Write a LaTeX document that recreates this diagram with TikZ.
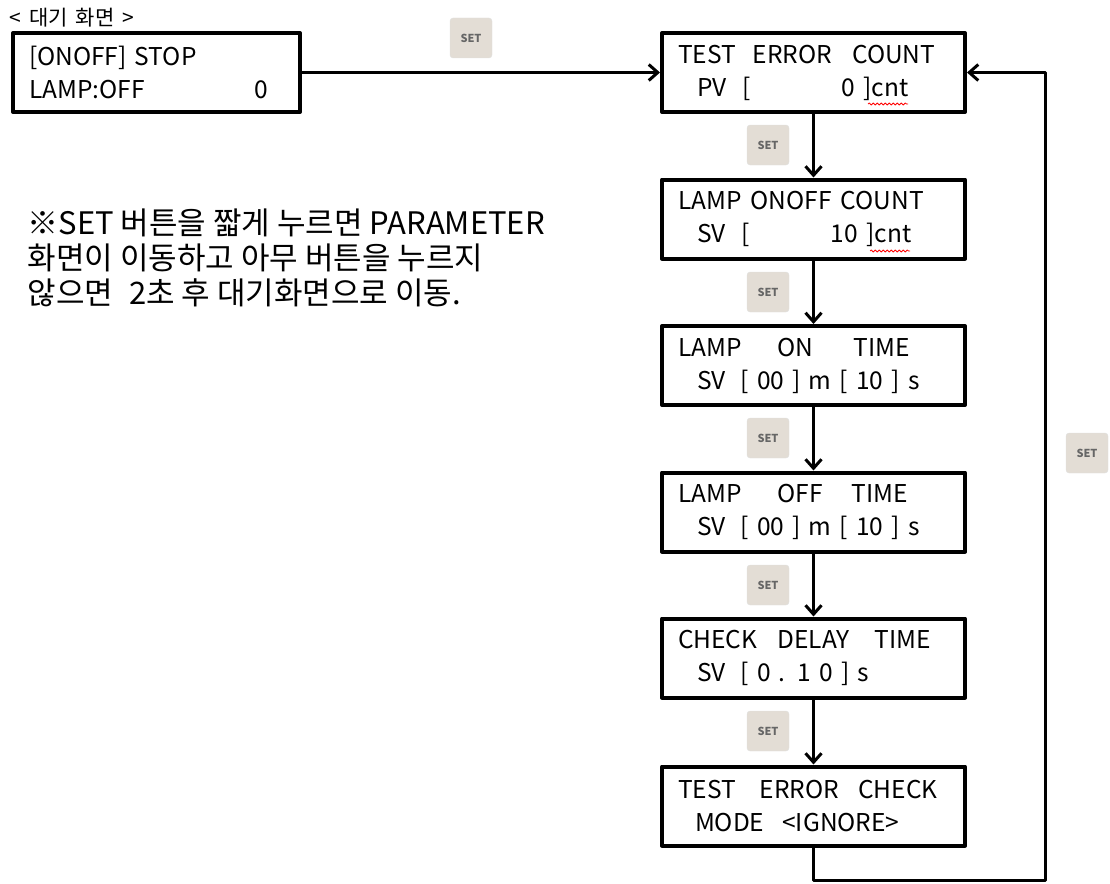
\documentclass[tikz,border=0pt]{standalone}
\usepackage{fontspec}
\setmainfont{Noto Sans CJK KR}
\usetikzlibrary{arrows.meta,positioning,decorations.pathmorphing}
\newcommand{\gp}[1]{\hspace{#1pt}}
\begin{document}
\begin{tikzpicture}[x=1pt,y=-1pt,line join=round,
	lcd/.style={draw,line width=4pt,minimum width=303pt,minimum height=79pt,inner xsep=16pt,
		text width=271pt,align=left,font=\fontsize{24.5}{33}\selectfont},
	setbtn/.style={draw=black!12,fill={rgb,255:red,227;green,221;blue,213},rounded corners=3pt,
		minimum width=42pt,minimum height=40pt,inner sep=0pt,text=black!60,
		font=\fontsize{11}{12}\selectfont\bfseries},
	flow/.style={line width=3pt,-{Straight Barb[length=9pt,width=16pt,line width=3pt]}},
	wavy/.style={red,line width=0.8pt,decorate,decoration={snake,segment length=4pt,amplitude=1pt}}]
	\useasboundingbox (0,0) rectangle (1110,883);
	% 대기 화면
	\node[anchor=west,font=\fontsize{21}{22}\selectfont] (wtitle) at (6,18) {<\gp{8}대기\gp{8}화면\gp{8}>};
	\node[lcd,minimum width=287pt,text width=255pt] (standby) at (156.5,72.5) {[ONOFF] STOP\\LAMP:OFF\gp{110}0};
	\node[setbtn] (set0) at (471,38) {SET};
	% 파라미터 화면
	\node[lcd] (tec) at (813.5,72.5) {\mbox{TEST\gp{17}ERROR\gp{20}COUNT}\\\mbox{\hspace*{19pt}PV\gp{16}[\gp{91}0 ]cnt}};
	\node[lcd] (onoff) at (813.5,219) {\mbox{LAMP\gp{9}ONOFF\gp{9}COUNT}\\\mbox{\hspace*{19pt}SV\gp{16}[\gp{81}10 ]cnt}};
	\node[lcd] (ontime) at (813.5,365.5) {\mbox{LAMP\gp{36}ON\gp{40}TIME}\\\mbox{\hspace*{19pt}SV\gp{15}[ 00 ] m [ 10 ] s}};
	\node[lcd] (offtime) at (813.5,512) {\mbox{LAMP\gp{36}OFF\gp{29}TIME}\\\mbox{\hspace*{19pt}SV\gp{15}[ 00 ] m [ 10 ] s}};
	\node[lcd] (delay) at (813.5,658) {\mbox{CHECK\gp{20}DELAY\gp{25}TIME}\\\mbox{\hspace*{19pt}SV\gp{15}[ 0 . 1 0 ] s}};
	\node[lcd] (mode) at (813.5,806) {\mbox{TEST\gp{24}ERROR\gp{19}CHECK}\\\mbox{\hspace*{17pt}MODE\gp{18}<IGNORE>}};
	\foreach \n/\y in {set1/145,set2/292,set3/438,set4/585,set5/731}
		\node[setbtn] (\n) at (768,\y) {SET};
	\node[setbtn] (setr) at (1087,453) {SET};
	\coordinate (loopc) at (1045,880);
	% 연결선
	\draw[flow] (standby) -- (tec);
	\draw[flow] (tec) -- (onoff);
	\draw[flow] (onoff) -- (ontime);
	\draw[flow] (ontime) -- (offtime);
	\draw[flow] (offtime) -- (delay);
	\draw[flow] (delay) -- (mode);
	\draw[flow] (mode.south) |- (loopc) |- (tec.east);
	\draw[wavy] (868,104) -- (908,104);
	\draw[wavy] (870,251) -- (910,251);
	% 설명
	\node[anchor=north west,align=left,font=\fontsize{31}{35}\selectfont] (note) at (24,205)
		{※SET 버튼을 짧게 누르면 PARAMETER\\화면이 이동하고 아무 버튼을 누르지\\않으면\gp{16}2초 후 대기화면으로 이동.};
\end{tikzpicture}
\end{document}
